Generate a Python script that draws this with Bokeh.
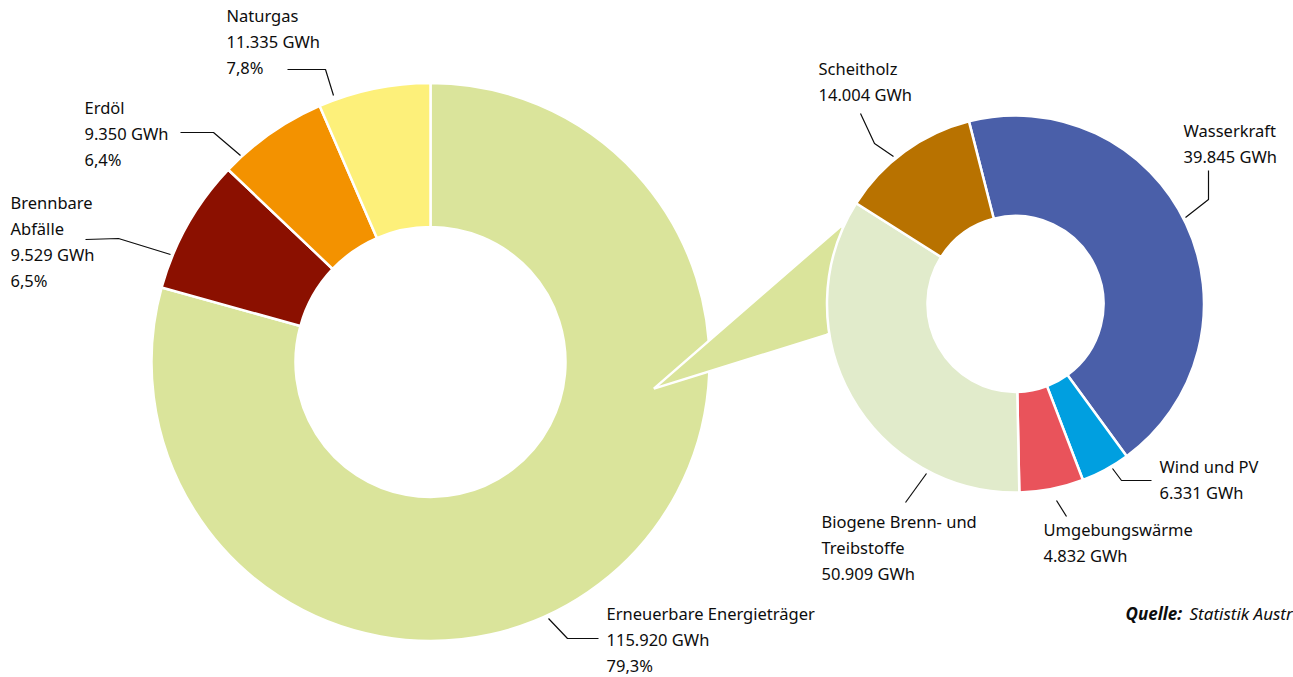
import math
from bokeh.plotting import figure
from bokeh.models import Range1d, ColumnDataSource
from bokeh.core.properties import value
from bokeh.embed import file_html
from bokeh.resources import INLINE

# ---------------- data ----------------
main_names = ["Erneuerbare Energieträger", "Brennbare\nAbfälle", "Erdöl", "Naturgas"]
main_gwh = [115920, 9529, 9350, 11335]
main_pct = ["79,3%", "6,5%", "6,4%", "7,8%"]
# angular shares (%) of the slices as drawn in the picture, clockwise from 12 o'clock
main_share = [79.3, 7.8, 6.4, 6.5]
main_colors = ["#dae49b", "#8b1000", "#f39200", "#fdf07a"]

renew_names = ["Wasserkraft", "Wind und PV", "Umgebungswärme", "Biogene Brenn- und\nTreibstoffe", "Scheitholz"]
renew_gwh = [39845, 6331, 4832, 50909, 14004]
# angular shares (%) as drawn, clockwise starting slightly left of 12 o'clock
renew_share = [43.94, 4.22, 5.5, 34.3, 12.06]
renew_colors = ["#4a5fa9", "#009fe0", "#e9535b", "#e1ebcb", "#b87200"]

source_bold = "Quelle:"
source_text = "Statistik Austria"

# ---------------- layout ----------------
W, H = 1293, 677
FONT = "Noto Sans"
FS = "16.5px"
LINE = 26
TXT = "#0d0d0d"

L_C = (430, 361.5); L_RO, L_RI = 279, 135; L_START = 0.0
R_C = (1015, 303.5); R_RO, R_RI = 188.5, 88; R_START = -14.3

main_label_pos = [(606, 613), (10, 202), (84, 107), (226, 15)]
renew_label_pos = [(1183, 130), (1159, 466), (1043, 529), (821, 521), (818, 68)]

main_leaders = [
    [(548, 618), (567, 638), (598, 638)],
    [(85, 239), (118, 238), (170, 254)],
    [(180, 132), (213, 132), (240, 155)],
    [(287, 69), (325, 69), (333, 95)],
]
renew_leaders = [
    [(1208, 170), (1208, 199), (1185, 217)],
    [(1112, 468), (1121, 480), (1151, 480)],
    [(1056, 500), (1066, 516)],
    [(926, 473), (905, 502)],
    [(860, 113), (874, 143), (893, 156)],
]


def fmt_gwh(v):
    return f"{v:,}".replace(",", ".") + " GWh"


p = figure(width=W, height=H, output_backend="svg", toolbar_location=None,
           x_range=Range1d(0, W), y_range=Range1d(-H, 0),
           x_axis_type=None, y_axis_type=None, min_border=0,
           outline_line_color=None, background_fill_color="white",
           border_fill_color="white")
p.grid.visible = False


def donut(center, ro, ri, start_deg, shares, colors):
    tot = sum(shares)
    starts, ends = [], []
    acc = start_deg
    for s in shares:
        a0 = acc
        acc += s / tot * 360.0
        starts.append(math.radians(90 - a0))
        ends.append(math.radians(90 - acc))
    src = ColumnDataSource(dict(x=[center[0]] * len(shares), y=[-center[1]] * len(shares),
                                start=starts, end=ends, color=colors))
    p.annular_wedge(x="x", y="y", inner_radius=ri, outer_radius=ro,
                    start_angle="start", end_angle="end", direction="clock",
                    fill_color="color", line_color="white", line_width=2.5, source=src)


def polar(c, r, deg):
    return (c[0] + r * math.cos(math.radians(deg)), c[1] - r * math.sin(math.radians(deg)))


donut(L_C, L_RO, L_RI, L_START, main_share, main_colors)

# connector wedge from the renewable slice to the detail donut
apex = polar(L_C, 225, -6.8)
p1 = polar(R_C, 191.5, 189.3)
p2 = polar(R_C, 191.0, 155.8)
q1 = polar(R_C, 150, 185)
q2 = polar(R_C, 150, 165)
xs = [apex[0], p1[0], q1[0], q2[0], p2[0]]
ys = [-apex[1], -p1[1], -q1[1], -q2[1], -p2[1]]
p.patch(xs, ys, fill_color=main_colors[0], line_color="white", line_width=2.5)

donut(R_C, R_RO, R_RI, R_START, renew_share, renew_colors)

# leader lines
for pts in main_leaders + renew_leaders:
    p.line([q[0] for q in pts], [-q[1] for q in pts], line_color=TXT, line_width=1.2)

# labels
tx, ty, tt = [], [], []
for name, g, pc, (x, y) in zip(main_names, main_gwh, main_pct, main_label_pos):
    lines = name.split("\n") + [fmt_gwh(g), pc]
    for i, s in enumerate(lines):
        tx.append(x); ty.append(-(y + i * LINE)); tt.append(s)
for name, g, (x, y) in zip(renew_names, renew_gwh, renew_label_pos):
    lines = name.split("\n") + [fmt_gwh(g)]
    for i, s in enumerate(lines):
        tx.append(x); ty.append(-(y + i * LINE)); tt.append(s)

p.text(x=tx, y=ty, text=tt, text_font=value(FONT), text_font_size=FS,
       text_color=TXT, text_baseline="middle", text_align="left")

p.text(x=[1125], y=[-613], text=[source_bold], text_font=value(FONT), text_font_size="17px",
       text_font_style="bold italic", text_color=TXT, text_baseline="middle", text_align="left")
p.text(x=[1189], y=[-613], text=[source_text], text_font=value(FONT), text_font_size="17px",
       text_font_style="italic", text_color=TXT, text_baseline="middle", text_align="left")

open("out.html", "w").write(file_html(p, INLINE))
